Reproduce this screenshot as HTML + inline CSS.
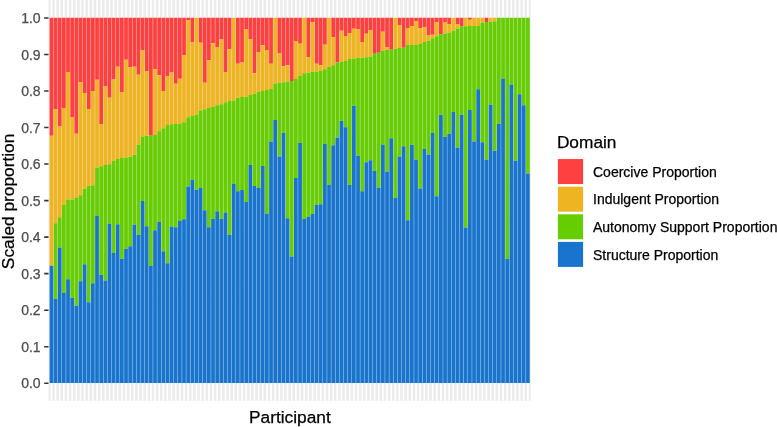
<!DOCTYPE html>
<html><head><meta charset="utf-8"><title>Scaled proportion by participant</title>
<style>html,body{margin:0;padding:0;background:#fff}svg{display:block}</style></head>
<body><svg width="777" height="427" viewBox="0 0 777 427">
<rect x="0" y="0" width="777" height="427" fill="#fff"/>
<rect x="48.5" y="-1" width="482.2" height="401.8" fill="#EBEBEB"/>
<path d="M51.45 -1V400.8M55.59 -1V400.8M59.74 -1V400.8M63.88 -1V400.8M68.02 -1V400.8M72.17 -1V400.8M76.31 -1V400.8M80.45 -1V400.8M84.59 -1V400.8M88.74 -1V400.8M92.88 -1V400.8M97.02 -1V400.8M101.17 -1V400.8M105.31 -1V400.8M109.45 -1V400.8M113.59 -1V400.8M117.74 -1V400.8M121.88 -1V400.8M126.02 -1V400.8M130.17 -1V400.8M134.31 -1V400.8M138.45 -1V400.8M142.6 -1V400.8M146.74 -1V400.8M150.88 -1V400.8M155.02 -1V400.8M159.17 -1V400.8M163.31 -1V400.8M167.45 -1V400.8M171.6 -1V400.8M175.74 -1V400.8M179.88 -1V400.8M184.03 -1V400.8M188.17 -1V400.8M192.31 -1V400.8M196.45 -1V400.8M200.6 -1V400.8M204.74 -1V400.8M208.88 -1V400.8M213.03 -1V400.8M217.17 -1V400.8M221.31 -1V400.8M225.46 -1V400.8M229.6 -1V400.8M233.74 -1V400.8M237.88 -1V400.8M242.03 -1V400.8M246.17 -1V400.8M250.31 -1V400.8M254.46 -1V400.8M258.6 -1V400.8M262.74 -1V400.8M266.89 -1V400.8M271.03 -1V400.8M275.17 -1V400.8M279.31 -1V400.8M283.46 -1V400.8M287.6 -1V400.8M291.74 -1V400.8M295.89 -1V400.8M300.03 -1V400.8M304.17 -1V400.8M308.32 -1V400.8M312.46 -1V400.8M316.6 -1V400.8M320.74 -1V400.8M324.89 -1V400.8M329.03 -1V400.8M333.17 -1V400.8M337.32 -1V400.8M341.46 -1V400.8M345.6 -1V400.8M349.75 -1V400.8M353.89 -1V400.8M358.03 -1V400.8M362.17 -1V400.8M366.32 -1V400.8M370.46 -1V400.8M374.6 -1V400.8M378.75 -1V400.8M382.89 -1V400.8M387.03 -1V400.8M391.18 -1V400.8M395.32 -1V400.8M399.46 -1V400.8M403.6 -1V400.8M407.75 -1V400.8M411.89 -1V400.8M416.03 -1V400.8M420.18 -1V400.8M424.32 -1V400.8M428.46 -1V400.8M432.61 -1V400.8M436.75 -1V400.8M440.89 -1V400.8M445.03 -1V400.8M449.18 -1V400.8M453.32 -1V400.8M457.46 -1V400.8M461.61 -1V400.8M465.75 -1V400.8M469.89 -1V400.8M474.04 -1V400.8M478.18 -1V400.8M482.32 -1V400.8M486.46 -1V400.8M490.61 -1V400.8M494.75 -1V400.8M498.89 -1V400.8M503.04 -1V400.8M507.18 -1V400.8M511.32 -1V400.8M515.47 -1V400.8M519.61 -1V400.8M523.75 -1V400.8M527.89 -1V400.8" stroke="#fff" stroke-width="1.65" fill="none"/>
<path d="M49.59 17.7h3.73V135.66h-3.73zM53.73 17.7h3.73V109h-3.73zM57.87 17.7h3.73V126.53h-3.73zM62.01 17.7h3.73V107.9h-3.73zM66.16 17.7h3.73V72.11h-3.73zM70.3 17.7h3.73V117.58h-3.73zM74.44 17.7h3.73V133.83h-3.73zM78.59 17.7h3.73V81.98h-3.73zM82.73 17.7h3.73V92.93h-3.73zM86.87 17.7h3.73V109h-3.73zM91.02 17.7h3.73V91.11h-3.73zM95.16 17.7h3.73V79.78h-3.73zM99.3 17.7h3.73V123.97h-3.73zM103.44 17.7h3.73V86.54h-3.73zM107.59 17.7h3.73V97.86h-3.73zM111.73 17.7h3.73V79.6h-3.73zM115.87 17.7h3.73V66.64h-3.73zM120.02 17.7h3.73V92.57h-3.73zM124.16 17.7h3.73V59.7h-3.73zM128.3 17.7h3.73V67.18h-3.73zM132.45 17.7h3.73V66.64h-3.73zM136.59 17.7h3.73V74.67h-3.73zM140.73 17.7h3.73V50.02h-3.73zM144.87 17.7h3.73V71.02h-3.73zM149.02 17.7h3.73V135.66h-3.73zM153.16 17.7h3.73V69.19h-3.73zM157.3 17.7h3.73V75.22h-3.73zM161.45 17.7h3.73V91.11h-3.73zM165.59 17.7h3.73V76.5h-3.73zM169.73 17.7h3.73V72.48h-3.73zM173.88 17.7h3.73V83.8h-3.73zM178.02 17.7h3.73V78.69h-3.73zM182.16 17.7h3.73V54.95h-3.73zM186.3 17.7h3.73V19.89h-3.73zM190.45 17.7h3.73V42.53h-3.73zM198.73 17.7h3.73V42.75h-3.73zM202.88 17.7h3.73V82.82h-3.73zM207.02 17.7h3.73V60.21h-3.73zM211.16 17.7h3.73V43.26h-3.73zM215.31 17.7h3.73V46.92h-3.73zM219.45 17.7h3.73V39.61h-3.73zM223.59 17.7h3.73V72.11h-3.73zM227.73 17.7h3.73V49.22h-3.73zM236.02 17.7h3.73V63.72h-3.73zM240.16 17.7h3.73V62.47h-3.73zM244.31 17.7h3.73V29.5h-3.73zM248.45 17.7h3.73V39.03h-3.73zM252.59 17.7h3.73V73.21h-3.73zM256.74 17.7h3.73V52.03h-3.73zM260.88 17.7h3.73V45.16h-3.73zM265.02 17.7h3.73V50.02h-3.73zM269.16 17.7h3.73V63.72h-3.73zM277.45 17.7h3.73V53.56h-3.73zM281.59 17.7h3.73V66.27h-3.73zM285.74 17.7h3.73V65.18h-3.73zM289.88 17.7h3.73V80.88h-3.73zM294.02 17.7h3.73V41.07h-3.73zM298.17 17.7h3.73V43.63h-3.73zM306.45 17.7h3.73V56.96h-3.73zM310.59 17.7h3.73V22.08h-3.73zM314.74 17.7h3.73V63.72h-3.73zM318.88 17.7h3.73V65.18h-3.73zM323.02 17.7h3.73V44.83h-3.73zM331.31 17.7h3.73V37.06h-3.73zM335.45 17.7h3.73V62.62h-3.73zM339.6 17.7h3.73V30.63h-3.73zM343.74 17.7h3.73V35.96h-3.73zM347.88 17.7h3.73V33.04h-3.73zM352.02 17.7h3.73V28.66h-3.73zM356.17 17.7h3.73V29.02h-3.73zM360.31 17.7h3.73V41.95h-3.73zM364.45 17.7h3.73V33.84h-3.73zM368.6 17.7h3.73V30.12h-3.73zM372.74 17.7h3.73V53.75h-3.73zM376.88 17.7h3.73V52.76h-3.73zM381.03 17.7h3.73V31.76h-3.73zM385.17 17.7h3.73V46.92h-3.73zM389.31 17.7h3.73V49.69h-3.73zM397.6 17.7h3.73V25h-3.73zM401.74 17.7h3.73V47.65h-3.73zM405.88 17.7h3.73V27.93h-3.73zM410.03 17.7h3.73V26.1h-3.73zM414.17 17.7h3.73V20.99h-3.73zM418.31 17.7h3.73V27.93h-3.73zM422.46 17.7h3.73V26.94h-3.73zM426.6 17.7h3.73V35.05h-3.73zM430.74 17.7h3.73V34.86h-3.73zM434.88 17.7h3.73V22.08h-3.73zM439.03 17.7h3.73V34.13h-3.73zM443.17 17.7h3.73V22.45h-3.73zM447.31 17.7h3.73V23.91h-3.73zM455.6 17.7h3.73V23.91h-3.73zM459.74 17.7h3.73V26.21h-3.73zM468.03 17.7h3.73V19.71h-3.73zM484.6 17.7h3.73V22.08h-3.73z" fill="#FF4040"/>
<path d="M49.59 135.66h3.73V265.67h-3.73zM53.73 109h3.73V223.31h-3.73zM57.87 126.53h3.73V217.28h-3.73zM62.01 107.9h3.73V205.05h-3.73zM66.16 72.11h3.73V199.57h-3.73zM70.3 117.58h3.73V199.57h-3.73zM74.44 133.83h3.73V198.11h-3.73zM78.59 81.98h3.73V195.19h-3.73zM82.73 92.93h3.73V188.61h-3.73zM86.87 109h3.73V186.06h-3.73zM91.02 91.11h3.73V185.33h-3.73zM95.16 79.78h3.73V167.8h-3.73zM99.3 123.97h3.73V166.34h-3.73zM103.44 86.54h3.73V165.06h-3.73zM107.59 97.86h3.73V164.25h-3.73zM111.73 79.6h3.73V160.86h-3.73zM115.87 66.64h3.73V159.03h-3.73zM120.02 92.57h3.73V158.12h-3.73zM124.16 59.7h3.73V157.57h-3.73zM128.3 67.18h3.73V156.66h-3.73zM132.45 66.64h3.73V154.65h-3.73zM136.59 74.67h3.73V144.79h-3.73zM140.73 50.02h3.73V136.39h-3.73zM144.87 71.02h3.73V135.84h-3.73zM153.16 69.19h3.73V134.93h-3.73zM157.3 75.22h3.73V131.28h-3.73zM161.45 91.11h3.73V128.36h-3.73zM165.59 76.5h3.73V124.89h-3.73zM169.73 72.48h3.73V124.34h-3.73zM173.88 83.8h3.73V123.97h-3.73zM178.02 78.69h3.73V123.72h-3.73zM182.16 54.95h3.73V122.15h-3.73zM186.3 19.89h3.73V117.25h-3.73zM190.45 42.53h3.73V116.12h-3.73zM194.59 17.7h3.73V114.84h-3.73zM198.73 42.75h3.73V110.46h-3.73zM202.88 82.82h3.73V109.15h-3.73zM207.02 60.21h3.73V107.9h-3.73zM211.16 43.26h3.73V106.81h-3.73zM215.31 46.92h3.73V105.13h-3.73zM219.45 39.61h3.73V104.25h-3.73zM223.59 72.11h3.73V102.21h-3.73zM227.73 49.22h3.73V101.08h-3.73zM231.88 17.7h3.73V100.6h-3.73zM236.02 63.72h3.73V97.86h-3.73zM240.16 62.47h3.73V97.06h-3.73zM244.31 29.5h3.73V96.73h-3.73zM248.45 39.03h3.73V95.12h-3.73zM252.59 73.21h3.73V93.81h-3.73zM256.74 52.03h3.73V91.73h-3.73zM260.88 45.16h3.73V90.89h-3.73zM265.02 50.02h3.73V90.08h-3.73zM269.16 63.72h3.73V88.91h-3.73zM273.31 17.7h3.73V83.62h-3.73zM277.45 53.56h3.73V82.82h-3.73zM281.59 66.27h3.73V82.16h-3.73zM285.74 65.18h3.73V81.61h-3.73zM294.02 41.07h3.73V79.05h-3.73zM298.17 43.63h3.73V75.88h-3.73zM302.31 17.7h3.73V73.21h-3.73zM306.45 56.96h3.73V72.63h-3.73zM310.59 22.08h3.73V71.75h-3.73zM314.74 63.72h3.73V71.38h-3.73zM318.88 65.18h3.73V71.02h-3.73zM323.02 44.83h3.73V69.19h-3.73zM327.17 17.7h3.73V67h-3.73zM331.31 37.06h3.73V65.18h-3.73zM339.6 30.63h3.73V61.89h-3.73zM343.74 35.96h3.73V61.01h-3.73zM347.88 33.04h3.73V58.97h-3.73zM352.02 28.66h3.73V58.42h-3.73zM356.17 29.02h3.73V58.09h-3.73zM360.31 41.95h3.73V57.87h-3.73zM364.45 33.84h3.73V57.29h-3.73zM368.6 30.12h3.73V56.41h-3.73zM381.03 31.76h3.73V50.82h-3.73zM385.17 46.92h3.73V50.02h-3.73zM393.45 17.7h3.73V48.89h-3.73zM397.6 25h3.73V48.01h-3.73zM405.88 27.93h3.73V45.09h-3.73zM410.03 26.1h3.73V44.94h-3.73zM414.17 20.99h3.73V44.72h-3.73zM418.31 27.93h3.73V43.99h-3.73zM422.46 26.94h3.73V41.99h-3.73zM426.6 35.05h3.73V40.89h-3.73zM430.74 34.86h3.73V38.37h-3.73zM434.88 22.08h3.73V36.33h-3.73zM443.17 22.45h3.73V33.4h-3.73zM447.31 23.91h3.73V33.04h-3.73zM451.46 17.7h3.73V30.85h-3.73zM455.6 23.91h3.73V28.47h-3.73zM463.89 17.7h3.73V26.21h-3.73zM468.03 19.71h3.73V26.1h-3.73zM472.17 17.7h3.73V26.1h-3.73zM476.31 17.7h3.73V26.1h-3.73zM480.46 17.7h3.73V22.59h-3.73zM488.74 17.7h3.73V21.72h-3.73zM492.89 17.7h3.73V21.35h-3.73z" fill="#EEB422"/>
<path d="M53.73 223.31h3.73V298.9h-3.73zM57.87 217.28h3.73V247.41h-3.73zM62.01 205.05h3.73V293.06h-3.73zM66.16 199.57h3.73V279.18h-3.73zM70.3 199.57h3.73V297.81h-3.73zM74.44 198.11h3.73V305.66h-3.73zM78.59 195.19h3.73V281.37h-3.73zM82.73 188.61h3.73V264.21h-3.73zM86.87 186.06h3.73V302.19h-3.73zM91.02 185.33h3.73V283.2h-3.73zM95.16 167.8h3.73V215.64h-3.73zM99.3 166.34h3.73V274.8h-3.73zM103.44 165.06h3.73V280.46h-3.73zM107.59 164.25h3.73V223.67h-3.73zM111.73 160.86h3.73V252.89h-3.73zM115.87 159.03h3.73V224.22h-3.73zM120.02 158.12h3.73V258.73h-3.73zM124.16 157.57h3.73V248.87h-3.73zM128.3 156.66h3.73V246.32h-3.73zM132.45 154.65h3.73V224.55h-3.73zM136.59 144.79h3.73V234.99h-3.73zM140.73 136.39h3.73V201.03h-3.73zM144.87 135.84h3.73V226.3h-3.73zM149.02 135.66h3.73V266.04h-3.73zM153.16 134.93h3.73V230.25h-3.73zM157.3 131.28h3.73V221.85h-3.73zM161.45 128.36h3.73V251.21h-3.73zM165.59 124.89h3.73V263.33h-3.73zM169.73 124.34h3.73V226.59h-3.73zM173.88 123.97h3.73V227.14h-3.73zM178.02 123.72h3.73V220.97h-3.73zM182.16 122.15h3.73V219.36h-3.73zM186.3 117.25h3.73V186.42h-3.73zM190.45 116.12h3.73V179.63h-3.73zM194.59 114.84h3.73V189.78h-3.73zM198.73 110.46h3.73V188.03h-3.73zM202.88 109.15h3.73V210.16h-3.73zM207.02 107.9h3.73V227.14h-3.73zM211.16 106.81h3.73V218.93h-3.73zM215.31 105.13h3.73V211.26h-3.73zM219.45 104.25h3.73V219.03h-3.73zM223.59 102.21h3.73V212.57h-3.73zM227.73 101.08h3.73V234.99h-3.73zM231.88 100.6h3.73V183.65h-3.73zM236.02 97.86h3.73V191.24h-3.73zM240.16 97.06h3.73V190.07h-3.73zM244.31 96.73h3.73V201.91h-3.73zM248.45 95.12h3.73V165.06h-3.73zM252.59 93.81h3.73V186.06h-3.73zM256.74 91.73h3.73V188.03h-3.73zM260.88 90.89h3.73V165.97h-3.73zM265.02 90.08h3.73V213.81h-3.73zM269.16 88.91h3.73V141.5h-3.73zM273.31 83.62h3.73V119.96h-3.73zM277.45 82.82h3.73V156.48h-3.73zM281.59 82.16h3.73V132.92h-3.73zM285.74 81.61h3.73V218.19h-3.73zM289.88 80.88h3.73V256.54h-3.73zM294.02 79.05h3.73V178.02h-3.73zM298.17 75.88h3.73V142.96h-3.73zM302.31 73.21h3.73V218.93h-3.73zM306.45 72.63h3.73V216.95h-3.73zM310.59 71.75h3.73V214.03h-3.73zM314.74 71.38h3.73V205.05h-3.73zM318.88 71.02h3.73V204.17h-3.73zM323.02 69.19h3.73V143.69h-3.73zM327.17 67h3.73V184.96h-3.73zM331.31 65.18h3.73V145.15h-3.73zM335.45 62.62h3.73V137.49h-3.73zM339.6 61.89h3.73V121.05h-3.73zM343.74 61.01h3.73V127.26h-3.73zM347.88 58.97h3.73V184.96h-3.73zM352.02 58.42h3.73V105.71h-3.73zM356.17 58.09h3.73V155.75h-3.73zM360.31 57.87h3.73V191.24h-3.73zM364.45 57.29h3.73V162.17h-3.73zM368.6 56.41h3.73V160.24h-3.73zM372.74 53.75h3.73V171.08h-3.73zM376.88 52.76h3.73V187.7h-3.73zM381.03 50.82h3.73V144.42h-3.73zM385.17 50.02h3.73V171.52h-3.73zM389.31 49.69h3.73V138.22h-3.73zM393.45 48.89h3.73V197.89h-3.73zM397.6 48.01h3.73V156.48h-3.73zM401.74 47.65h3.73V146.25h-3.73zM405.88 45.09h3.73V220.17h-3.73zM410.03 44.94h3.73V144.79h-3.73zM414.17 44.72h3.73V159.4h-3.73zM418.31 43.99h3.73V188.61h-3.73zM422.46 41.99h3.73V148.92h-3.73zM426.6 40.89h3.73V154.65h-3.73zM430.74 38.37h3.73V132.92h-3.73zM434.88 36.33h3.73V196.28h-3.73zM439.03 34.13h3.73V114.84h-3.73zM443.17 33.4h3.73V137.12h-3.73zM447.31 33.04h3.73V133.83h-3.73zM451.46 30.85h3.73V111.92h-3.73zM455.6 28.47h3.73V147.71h-3.73zM459.74 26.21h3.73V114.84h-3.73zM463.89 26.21h3.73V227.43h-3.73zM468.03 26.1h3.73V109.99h-3.73zM472.17 26.1h3.73V141.5h-3.73zM476.31 26.1h3.73V89.28h-3.73zM480.46 22.59h3.73V142.23h-3.73zM484.6 22.08h3.73V159.76h-3.73zM488.74 21.72h3.73V104.62h-3.73zM492.89 21.35h3.73V150.63h-3.73zM497.03 17.7h3.73V123.97h-3.73zM501.17 17.7h3.73V78.47h-3.73zM505.32 17.7h3.73V258.95h-3.73zM509.46 17.7h3.73V84.53h-3.73zM513.6 17.7h3.73V160.71h-3.73zM517.74 17.7h3.73V94.14h-3.73zM521.89 17.7h3.73V105.13h-3.73zM526.03 17.7h3.73V173.46h-3.73z" fill="#66CD00"/>
<path d="M49.59 265.67h3.73V382.9h-3.73zM53.73 298.9h3.73V382.9h-3.73zM57.87 247.41h3.73V382.9h-3.73zM62.01 293.06h3.73V382.9h-3.73zM66.16 279.18h3.73V382.9h-3.73zM70.3 297.81h3.73V382.9h-3.73zM74.44 305.66h3.73V382.9h-3.73zM78.59 281.37h3.73V382.9h-3.73zM82.73 264.21h3.73V382.9h-3.73zM86.87 302.19h3.73V382.9h-3.73zM91.02 283.2h3.73V382.9h-3.73zM95.16 215.64h3.73V382.9h-3.73zM99.3 274.8h3.73V382.9h-3.73zM103.44 280.46h3.73V382.9h-3.73zM107.59 223.67h3.73V382.9h-3.73zM111.73 252.89h3.73V382.9h-3.73zM115.87 224.22h3.73V382.9h-3.73zM120.02 258.73h3.73V382.9h-3.73zM124.16 248.87h3.73V382.9h-3.73zM128.3 246.32h3.73V382.9h-3.73zM132.45 224.55h3.73V382.9h-3.73zM136.59 234.99h3.73V382.9h-3.73zM140.73 201.03h3.73V382.9h-3.73zM144.87 226.3h3.73V382.9h-3.73zM149.02 266.04h3.73V382.9h-3.73zM153.16 230.25h3.73V382.9h-3.73zM157.3 221.85h3.73V382.9h-3.73zM161.45 251.21h3.73V382.9h-3.73zM165.59 263.33h3.73V382.9h-3.73zM169.73 226.59h3.73V382.9h-3.73zM173.88 227.14h3.73V382.9h-3.73zM178.02 220.97h3.73V382.9h-3.73zM182.16 219.36h3.73V382.9h-3.73zM186.3 186.42h3.73V382.9h-3.73zM190.45 179.63h3.73V382.9h-3.73zM194.59 189.78h3.73V382.9h-3.73zM198.73 188.03h3.73V382.9h-3.73zM202.88 210.16h3.73V382.9h-3.73zM207.02 227.14h3.73V382.9h-3.73zM211.16 218.93h3.73V382.9h-3.73zM215.31 211.26h3.73V382.9h-3.73zM219.45 219.03h3.73V382.9h-3.73zM223.59 212.57h3.73V382.9h-3.73zM227.73 234.99h3.73V382.9h-3.73zM231.88 183.65h3.73V382.9h-3.73zM236.02 191.24h3.73V382.9h-3.73zM240.16 190.07h3.73V382.9h-3.73zM244.31 201.91h3.73V382.9h-3.73zM248.45 165.06h3.73V382.9h-3.73zM252.59 186.06h3.73V382.9h-3.73zM256.74 188.03h3.73V382.9h-3.73zM260.88 165.97h3.73V382.9h-3.73zM265.02 213.81h3.73V382.9h-3.73zM269.16 141.5h3.73V382.9h-3.73zM273.31 119.96h3.73V382.9h-3.73zM277.45 156.48h3.73V382.9h-3.73zM281.59 132.92h3.73V382.9h-3.73zM285.74 218.19h3.73V382.9h-3.73zM289.88 256.54h3.73V382.9h-3.73zM294.02 178.02h3.73V382.9h-3.73zM298.17 142.96h3.73V382.9h-3.73zM302.31 218.93h3.73V382.9h-3.73zM306.45 216.95h3.73V382.9h-3.73zM310.59 214.03h3.73V382.9h-3.73zM314.74 205.05h3.73V382.9h-3.73zM318.88 204.17h3.73V382.9h-3.73zM323.02 143.69h3.73V382.9h-3.73zM327.17 184.96h3.73V382.9h-3.73zM331.31 145.15h3.73V382.9h-3.73zM335.45 137.49h3.73V382.9h-3.73zM339.6 121.05h3.73V382.9h-3.73zM343.74 127.26h3.73V382.9h-3.73zM347.88 184.96h3.73V382.9h-3.73zM352.02 105.71h3.73V382.9h-3.73zM356.17 155.75h3.73V382.9h-3.73zM360.31 191.24h3.73V382.9h-3.73zM364.45 162.17h3.73V382.9h-3.73zM368.6 160.24h3.73V382.9h-3.73zM372.74 171.08h3.73V382.9h-3.73zM376.88 187.7h3.73V382.9h-3.73zM381.03 144.42h3.73V382.9h-3.73zM385.17 171.52h3.73V382.9h-3.73zM389.31 138.22h3.73V382.9h-3.73zM393.45 197.89h3.73V382.9h-3.73zM397.6 156.48h3.73V382.9h-3.73zM401.74 146.25h3.73V382.9h-3.73zM405.88 220.17h3.73V382.9h-3.73zM410.03 144.79h3.73V382.9h-3.73zM414.17 159.4h3.73V382.9h-3.73zM418.31 188.61h3.73V382.9h-3.73zM422.46 148.92h3.73V382.9h-3.73zM426.6 154.65h3.73V382.9h-3.73zM430.74 132.92h3.73V382.9h-3.73zM434.88 196.28h3.73V382.9h-3.73zM439.03 114.84h3.73V382.9h-3.73zM443.17 137.12h3.73V382.9h-3.73zM447.31 133.83h3.73V382.9h-3.73zM451.46 111.92h3.73V382.9h-3.73zM455.6 147.71h3.73V382.9h-3.73zM459.74 114.84h3.73V382.9h-3.73zM463.89 227.43h3.73V382.9h-3.73zM468.03 109.99h3.73V382.9h-3.73zM472.17 141.5h3.73V382.9h-3.73zM476.31 89.28h3.73V382.9h-3.73zM480.46 142.23h3.73V382.9h-3.73zM484.6 159.76h3.73V382.9h-3.73zM488.74 104.62h3.73V382.9h-3.73zM492.89 150.63h3.73V382.9h-3.73zM497.03 123.97h3.73V382.9h-3.73zM501.17 78.47h3.73V382.9h-3.73zM505.32 258.95h3.73V382.9h-3.73zM509.46 84.53h3.73V382.9h-3.73zM513.6 160.71h3.73V382.9h-3.73zM517.74 94.14h3.73V382.9h-3.73zM521.89 105.13h3.73V382.9h-3.73zM526.03 173.46h3.73V382.9h-3.73z" fill="#1874CD"/>
<path d="M44.2 383.2H48.5M44.2 346.68H48.5M44.2 310.16H48.5M44.2 273.64H48.5M44.2 237.12H48.5M44.2 200.6H48.5M44.2 164.08H48.5M44.2 127.56H48.5M44.2 91.04H48.5M44.2 54.52H48.5M44.2 18H48.5" stroke="#333" stroke-width="1.55" fill="none"/>
<g font-family="'Liberation Sans', Arial, Helvetica, sans-serif" font-size="14" fill="#4D4D4D" stroke="#4D4D4D" stroke-width="0.25" text-anchor="end">
<text x="40.6" y="388.3">0.0</text>
<text x="40.6" y="351.78">0.1</text>
<text x="40.6" y="315.26">0.2</text>
<text x="40.6" y="278.74">0.3</text>
<text x="40.6" y="242.22">0.4</text>
<text x="40.6" y="205.7">0.5</text>
<text x="40.6" y="169.18">0.6</text>
<text x="40.6" y="132.66">0.7</text>
<text x="40.6" y="96.14">0.8</text>
<text x="40.6" y="59.62">0.9</text>
<text x="40.6" y="23.1">1.0</text>
</g>
<g font-family="'Liberation Sans', Arial, Helvetica, sans-serif" fill="#000" stroke="#000" stroke-width="0.25">
<text x="289.9" y="422.6" font-size="17.3" text-anchor="middle">Participant</text>
<text transform="translate(13.6 201.4) rotate(-90)" font-size="17.3" text-anchor="middle">Scaled proportion</text>
<text x="556.9" y="147.7" font-size="17.3">Domain</text>
<rect x="557.9" y="159.05" width="25.2" height="25" fill="#FF4040" stroke="none"/>
<text x="593" y="176.85" font-size="14">Coercive Proportion</text>
<rect x="557.9" y="186.67" width="25.2" height="25" fill="#EEB422" stroke="none"/>
<text x="593" y="204.47" font-size="14">Indulgent Proportion</text>
<rect x="557.9" y="214.29" width="25.2" height="25" fill="#66CD00" stroke="none"/>
<text x="593" y="232.09" font-size="14">Autonomy Support Proportion</text>
<rect x="557.9" y="241.91" width="25.2" height="25" fill="#1874CD" stroke="none"/>
<text x="593" y="259.71" font-size="14">Structure Proportion</text>
</g>
</svg></body></html>
